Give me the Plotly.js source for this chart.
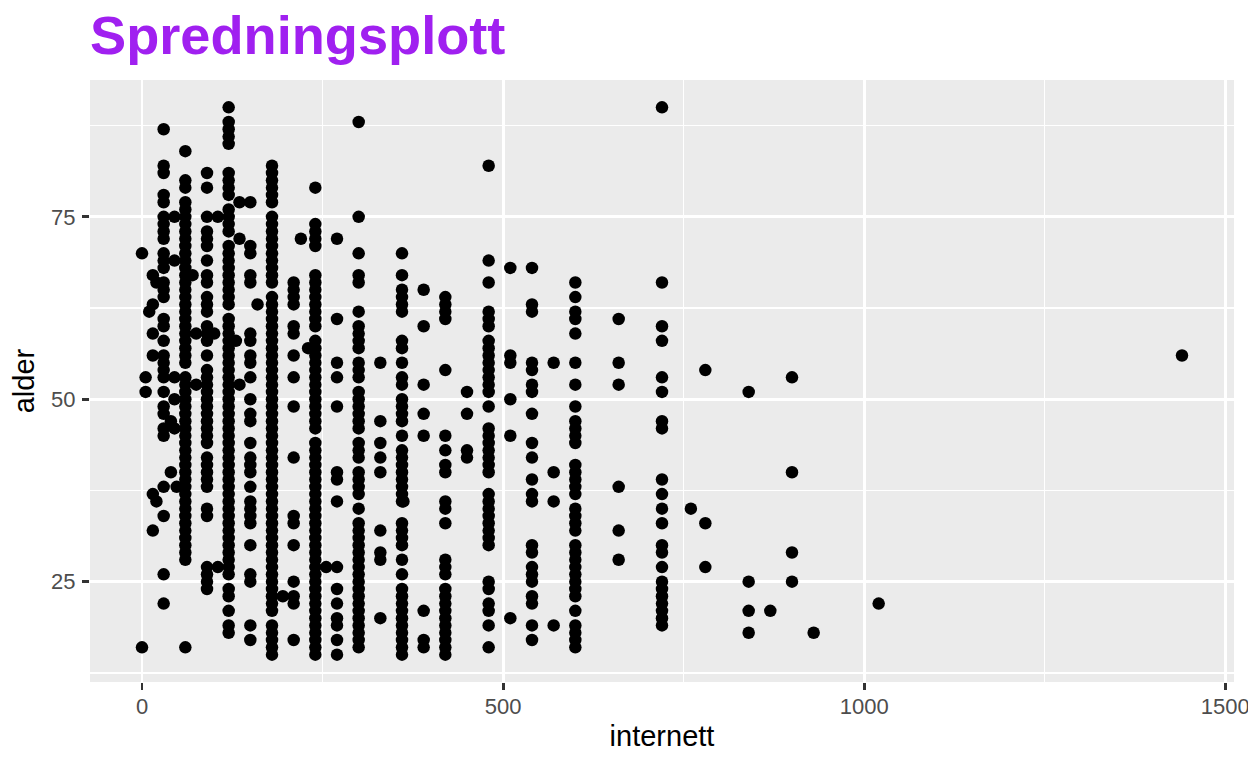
<!DOCTYPE html>
<html>
<head>
<meta charset="utf-8">
<script src="https://cdn.plot.ly/plotly-3.0.1.min.js"></script>
<style>html,body{margin:0;padding:0;background:#fff;overflow:hidden}#chart{width:1248px;height:768px}</style>
</head>
<body>
<div id="chart"></div>
<script>
const chartTitle = "Spredningsplott";
const xLabel = "internett";
const yLabel = "alder";
const xTicks = [0, 500, 1000, 1500];
const yTicks = [25, 50, 75];

const internettValues = [0,5,10,15,20,30,40,45,48,60,70,75,90,100,105,120,130,135,150,160,180,195,210,220,230,240,255,270,300,330,360,362,390,420,450,480,510,540,570,600,660,720,760,780,840,870,900,930,1020,1440];

const alder000 = [70,16];
const alder005 = [53,51];
const alder010 = [62];
const alder015 = [67,63,59,56,37,32];
const alder020 = [66,36];
const alder030 = [87,82,81,78,77,75,74,73,72,70,69,68,66,65,64,61,60,58,56,55,54,53,51,49,48,46,45,38,34,26,22];
const alder040 = [47,40];
const alder045 = [75,69,53,50,46];
const alder048 = [38];
const alder060 = [84,80,79,77,76,75,74,73,72,71,70,69,68,67,66,65,64,63,62,61,60,59,58,57,56,55,53,52,51,50,49,48,47,46,45,44,43,42,41,40,39,38,37,36,35,34,33,32,31,30,29,28,16];
const alder070 = [67];
const alder075 = [59,52];
const alder090 = [81,79,75,73,72,71,69,67,66,64,63,62,60,59,58,56,54,53,52,51,50,49,48,47,46,45,44,42,41,40,39,38,35,34,27,26,25,24];
const alder100 = [59];
const alder105 = [75,27];
const alder120 = [90,88,87,86,85,81,80,79,78,76,75,74,73,71,70,69,68,67,66,65,64,63,61,60,59,58,57,56,55,54,53,52,51,50,49,48,47,46,45,44,43,42,41,40,39,38,37,36,35,34,33,32,31,30,29,28,27,26,24,23,21,19,18];
const alder130 = [58];
const alder135 = [77,72,52];
const alder150 = [77,71,70,67,66,59,58,56,55,53,50,48,47,44,42,41,40,38,36,35,34,33,30,26,25,19,17];
const alder160 = [63];
const alder180 = [82,81,80,79,78,77,75,74,73,72,71,70,69,68,67,66,64,63,62,61,60,59,58,57,56,55,54,53,52,51,50,49,48,47,46,45,44,43,42,41,40,39,38,37,36,35,34,33,32,31,30,29,28,27,26,25,24,23,22,21,19,18,17,16,15];
const alder195 = [23];
const alder210 = [66,65,64,63,60,59,56,53,49,42,34,33,30,25,23,22,17];
const alder220 = [72];
const alder230 = [57];
const alder240 = [79,74,73,72,71,67,66,65,64,63,62,61,60,58,57,56,55,54,53,52,51,50,49,48,47,46,44,43,42,41,40,39,38,37,36,35,34,33,32,31,30,29,28,27,26,25,24,23,22,21,20,19,18,17,16,15];
const alder255 = [27];
const alder270 = [72,61,55,53,49,40,39,36,27,24,22,20,19,17,15];
const alder300 = [88,75,70,67,66,62,60,59,58,57,55,54,53,51,50,49,48,47,46,44,43,42,40,39,38,37,35,33,32,31,30,29,28,27,26,25,24,23,22,21,20,19,18,17,16];
const alder330 = [55,47,44,42,40,32,29,28,20];
const alder360 = [70,67,65,64,63,62,58,57,55,53,52,50,49,48,47,45,43,42,41,40,39,38,37,36,33,32,31,30,28,26,24,23,22,21,20,19,18,17,16,15];
const alder362 = [36];
const alder390 = [65,60,52,48,45,21,17,16];
const alder420 = [64,63,62,61,54,45,43,41,40,36,35,33,28,27,26,24,23,22,21,20,19,18,17,16,15];
const alder450 = [51,48,43,42];
const alder480 = [82,69,66,62,61,60,58,57,56,55,54,53,52,51,49,46,45,44,43,42,41,40,37,36,35,34,33,32,31,30,25,24,22,21,19,16];
const alder510 = [68,56,55,50,45,20];
const alder540 = [68,63,62,55,54,52,51,48,44,42,39,37,36,30,29,27,26,25,23,22,19,17];
const alder570 = [55,40,36,19];
const alder600 = [66,64,62,61,59,55,52,49,47,46,45,44,41,40,39,38,37,35,34,33,32,30,29,28,27,26,25,24,23,21,19,18,17,16];
const alder660 = [61,55,52,38,32,28];
const alder720 = [90,66,60,58,53,51,47,46,39,37,35,33,30,29,27,25,24,23,22,21,20,19];
const alder760 = [35];
const alder780 = [54,33,27];
const alder840 = [51,25,21,18];
const alder870 = [21];
const alder900 = [53,40,29,25];
const alder930 = [18];
const alder1020 = [22];
const alder1440 = [56];

const alderLists = [alder000,alder005,alder010,alder015,alder020,alder030,alder040,alder045,alder048,alder060,alder070,alder075,alder090,alder100,alder105,alder120,alder130,alder135,alder150,alder160,alder180,alder195,alder210,alder220,alder230,alder240,alder255,alder270,alder300,alder330,alder360,alder362,alder390,alder420,alder450,alder480,alder510,alder540,alder570,alder600,alder660,alder720,alder760,alder780,alder840,alder870,alder900,alder930,alder1020,alder1440];

const xs = [], ys = [];
alderLists.forEach((list, i) => list.forEach(a => { xs.push(internettValues[i]); ys.push(a); }));

const tickFont = {family: '"Liberation Sans", Arial, sans-serif', size: 22, color: '#4D4D4D'};
const labelFont = {family: '"Liberation Sans", Arial, sans-serif', size: 29, color: '#000'};

Plotly.newPlot('chart', [{
  type: 'scatter', mode: 'markers', x: xs, y: ys,
  marker: {color: '#000', size: 12.5, line: {width: 0}}, cliponaxis: true
}], {
  width: 1248, height: 768,
  paper_bgcolor: '#fff', plot_bgcolor: '#EBEBEB',
  margin: {l: 90, r: 14, t: 80, b: 86, pad: 0},
  showlegend: false,
  title: {text: '<b>' + chartTitle + '</b>', x: 90/1248, xanchor: 'left', y: 1 - 54/768, yanchor: 'bottom',
    font: {family: '"Liberation Sans", Arial, sans-serif', size: 54.2, color: '#A020F0'}, pad: {t:0,b:0,l:0,r:0}},
  xaxis: {
    range: [-72, 1512], tickmode: 'array', tickvals: xTicks, ticktext: xTicks.map(String),
    zeroline: false, showline: false, showgrid: true, gridcolor: '#fff', gridwidth: 2.8,
    ticks: 'outside', ticklen: 7, tickwidth: 2.8, tickcolor: '#333333', tickfont: tickFont,
    ticklabeloverflow: 'allow', ticklabelstandoff: -2,
    minor: {tickvals: [250, 750, 1250], showgrid: true, gridcolor: '#fff', gridwidth: 1.4, ticks: ''},
    title: {text: xLabel, font: labelFont, standoff: 7}
  },
  yaxis: {
    range: [11.25, 93.75], tickmode: 'array', tickvals: yTicks, ticktext: yTicks.map(String),
    zeroline: false, showline: false, showgrid: true, gridcolor: '#fff', gridwidth: 2.8,
    ticks: 'outside', ticklen: 7, tickwidth: 2.8, tickcolor: '#333333', tickfont: tickFont,
    ticklabelstandoff: 2,
    minor: {tickvals: [12.5, 37.5, 62.5, 87.5], showgrid: true, gridcolor: '#fff', gridwidth: 1.4, ticks: ''},
    title: {text: yLabel, font: labelFont, standoff: 7}
  }
}, {displayModeBar: false, staticPlot: true});
</script>
</body>
</html>
